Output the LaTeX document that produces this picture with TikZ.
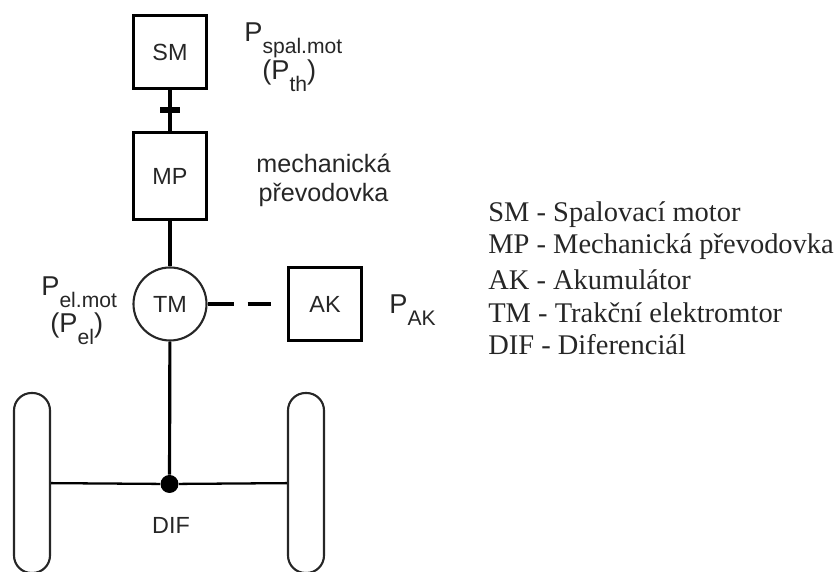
\documentclass[tikz,border=0pt]{standalone}
\usepackage{fontspec}
\setmainfont{Liberation Sans}
\newfontfamily\legendfont{Liberation Serif}
\newcommand{\psub}[1]{{\fontsize{15.5}{18}\selectfont P}\raisebox{-6.5pt}{\fontsize{12}{14}\selectfont #1}}
\begin{document}
\begin{tikzpicture}[
  every node/.style={inner sep=0pt, text=black!85},
  unit/.style={draw=black, line width=1.7pt, minimum width=1.46cm, font=\fontsize{13.3}{15}\selectfont},
  motor/.style={circle, draw=black!85, line width=1.2pt, minimum size=1.46cm, font=\fontsize{13.3}{15}\selectfont},
  wheel/.style={draw=black!85, line width=1.2pt, rounded corners=0.35cm, minimum width=0.72cm, minimum height=3.6cm},
  shaft/.style={-, black, line width=1.8pt},
  axle/.style={-, black, line width=1.3pt},
  power/.style={anchor=base west},
  note/.style={font=\fontsize{14.3}{17}\selectfont},
  legend/.style={anchor=west, font=\legendfont\fontsize{16.2}{19}\selectfont},
]
  \useasboundingbox (0,0) rectangle (16.7,11.44);
  % Drive line
  \node[unit, minimum height=1.46cm] (sm) at (3.4, 10.4) {SM};
  \node[unit, minimum height=1.74cm] (mp) at (3.4, 7.92) {MP};
  \node[motor] (tm) at (3.4, 5.36) {TM};
  \node[unit, minimum height=1.46cm] (ak) at (6.5, 5.36) {AK};
  \node[circle, fill=black, minimum size=0.36cm] (dif) at (3.39, 1.76) {};
  \node[font=\fontsize{13.3}{15}\selectfont] (diflabel) at (3.42, 0.94) {DIF};
  % Wheels
  \node[wheel] (lwheel) at (0.64, 1.78) {};
  \node[wheel] (rwheel) at (6.12, 1.78) {};
  % Connections
  \draw[shaft] (sm) -- node[fill=black, minimum width=0.4cm, minimum height=0.12cm] (clutch) {} (mp);
  \draw[shaft] (mp) -- (tm);
  \draw[shaft] (tm) -- (dif);
  \draw[axle] (lwheel) -- (dif);
  \draw[axle] (dif) -- (rwheel);
  \draw[shaft, dash pattern=on 0.52cm off 0.28cm, shorten >=0.32cm] (tm) -- (ak);
  % Power labels
  \node[power] (psm) at (4.88, 10.6) {\psub{spal.mot}};
  \node[power] (pth) at (5.24, 9.84) {{\fontsize{15.5}{18}\selectfont (}\psub{th}{\fontsize{15.5}{18}\selectfont )}};
  \node[power] (ptm) at (0.82, 5.52) {\psub{el.mot}};
  \node[power] (pel) at (1.0, 4.78) {{\fontsize{15.5}{18}\selectfont (}\psub{el}{\fontsize{15.5}{18}\selectfont )}};
  \node[power] (pak) at (7.78, 5.16) {\psub{AK}};
  % Gearbox note
  \node[note] (gear1) at (6.47, 8.18) {mechanická};
  \node[note] (gear2) at (6.47, 7.54) {převodovka};
  % Legend
  \node[legend] (leg1) at (9.76, 7.15) {SM - Spalovací motor};
  \node[legend] (leg2) at (9.76, 6.5) {MP - Mechanická převodovka};
  \node[legend] (leg3) at (9.76, 5.85) {AK - Akumulátor};
  \node[legend] (leg4) at (9.76, 5.19) {TM - Trakční elektromtor};
  \node[legend] (leg5) at (9.76, 4.54) {DIF - Diferenciál};
\end{tikzpicture}
\end{document}
